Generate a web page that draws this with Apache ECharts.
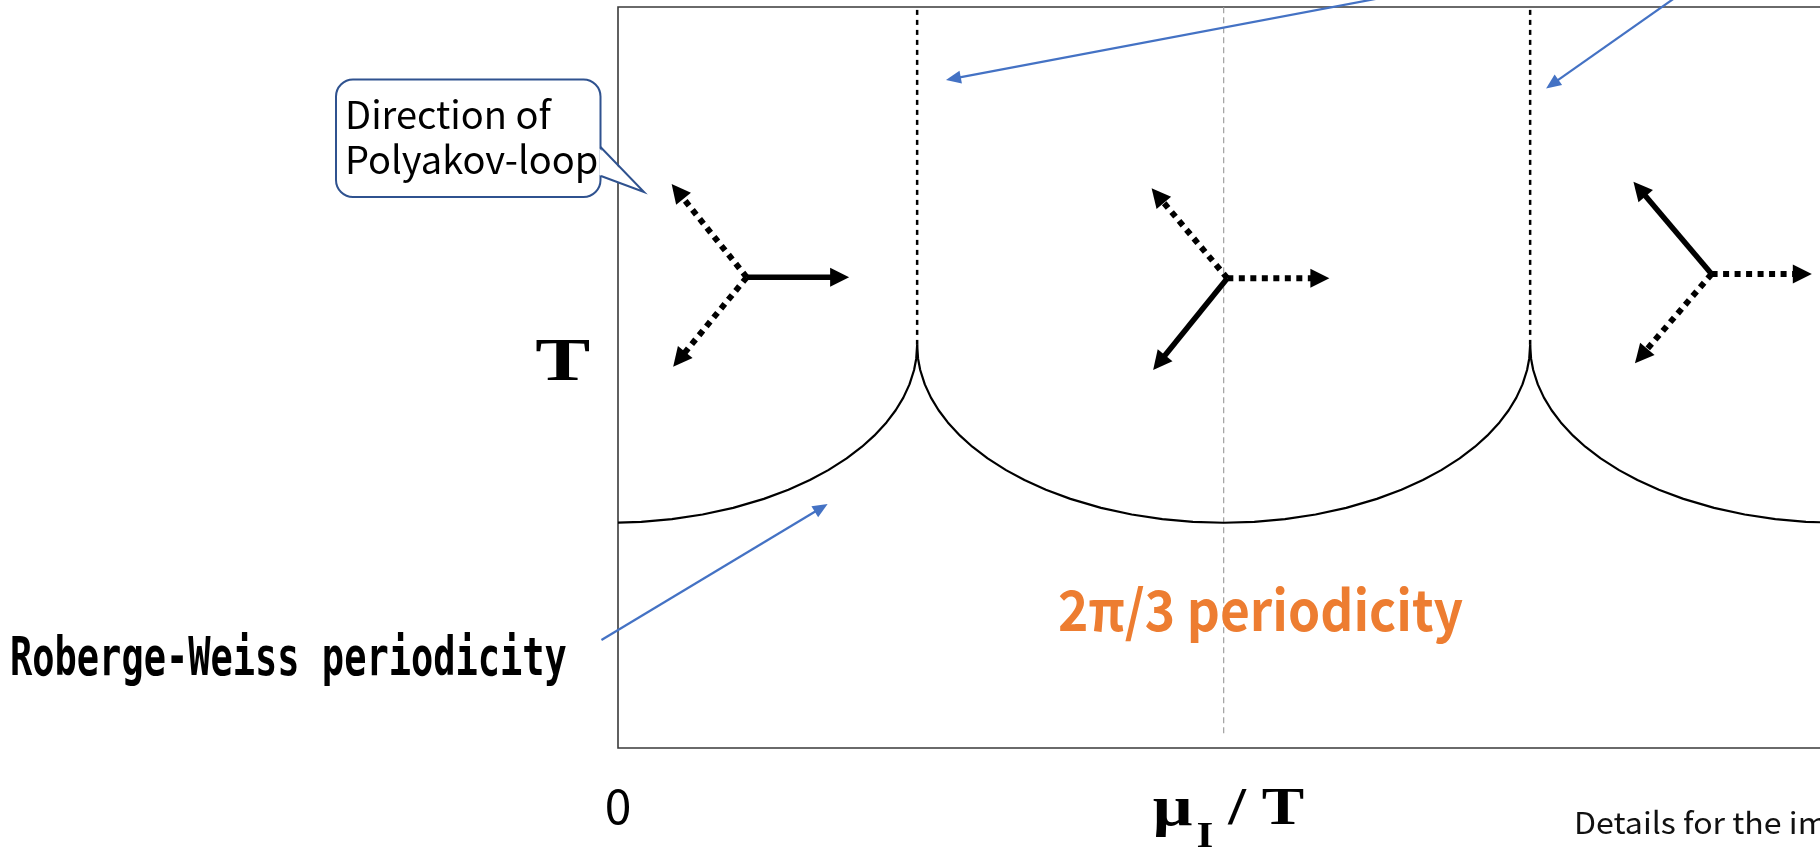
<!DOCTYPE html>
<html>
<head>
<meta charset="utf-8">
<title>Roberge-Weiss periodicity</title>
<script src="https://cdn.jsdelivr.net/npm/echarts@6/dist/echarts.min.js"></script>
<style>
  html, body { margin: 0; padding: 0; background: #fff; }
  #chart { width: 1820px; height: 849px; }
</style>
</head>
<body>
<div id="chart"></div>
<script>
// Imaginary chemical potential axis, in units of pi/3 (only the origin is labelled)
const muLabels = ['0'];

// Deconfinement boundary T(mu_I/T): one arc per Z3 sector, meeting at the RW cusps
const arcLeft = [
  [0.000, 30.41], [0.076, 30.52], [0.176, 30.88], [0.276, 31.51], [0.376, 32.40],
  [0.476, 33.62], [0.556, 34.85], [0.626, 36.16], [0.686, 37.50], [0.746, 39.09],
  [0.796, 40.66], [0.836, 42.15], [0.876, 43.94], [0.906, 45.58], [0.931, 47.28],
  [0.951, 49.07], [0.966, 51.01], [0.973, 52.54], [0.976, 54.40]
];
const arcMiddle = [
  [0.976, 54.40], [0.979, 52.54], [0.986, 51.01], [1.001, 49.07], [1.021, 47.28],
  [1.046, 45.58], [1.076, 43.94], [1.116, 42.15], [1.156, 40.66], [1.206, 39.09],
  [1.266, 37.50], [1.326, 36.16], [1.396, 34.85], [1.476, 33.62], [1.576, 32.40],
  [1.676, 31.51], [1.776, 30.88], [1.876, 30.52], [1.976, 30.40],
  [2.076, 30.52], [2.176, 30.88], [2.276, 31.51], [2.376, 32.40], [2.476, 33.62],
  [2.556, 34.85], [2.626, 36.16], [2.686, 37.50], [2.746, 39.09], [2.796, 40.66],
  [2.836, 42.15], [2.876, 43.94], [2.906, 45.58], [2.931, 47.28], [2.951, 49.07],
  [2.966, 51.01], [2.973, 52.54], [2.976, 54.40]
];
const arcRight = [
  [2.976, 54.40], [2.979, 52.54], [2.986, 51.01], [3.001, 49.07], [3.021, 47.28],
  [3.046, 45.58], [3.076, 43.94], [3.116, 42.15], [3.156, 40.66], [3.206, 39.09],
  [3.266, 37.50], [3.326, 36.16], [3.396, 34.85], [3.476, 33.62], [3.576, 32.40],
  [3.676, 31.51], [3.776, 30.88], [3.876, 30.52], [3.976, 30.40], [4.000, 30.41]
];

// RW transition lines above the cusps
const rwTransitionMu = [0.976, 2.976];
const rwCuspT = 54.4;
const topT = 100;

// Symmetry line through the middle sector
const midLineMu = 1.976;
const midLineBottomT = 2.0;

// Polyakov-loop directions: [mu0, T0, mu1, T1, solid(1)/dotted(0)]
const polyakovArrows = [
  [0.420, 63.52, 0.754, 63.52, 1],
  [0.420, 63.52, 0.175, 76.11, 0],
  [0.420, 63.52, 0.180, 51.46, 0],
  [1.988, 63.39, 2.321, 63.39, 0],
  [1.988, 63.39, 1.741, 75.53, 0],
  [1.988, 63.39, 1.746, 51.01, 1],
  [3.568, 63.97, 3.895, 63.97, 0],
  [3.568, 63.97, 3.313, 76.42, 1],
  [3.568, 63.97, 3.318, 51.92, 0]
];

// Blue pointers: [mu0, T0, mu1, T1]
const pointerArrows = [
  [2.799, 103.64, 1.070, 90.15],
  [3.531, 103.64, 3.028, 89.01],
  [-0.054, 14.57, 0.684, 32.93]
];

function arrowItem(headLen, headHalf, styleFor) {
  return function (params, api) {
    const p0 = api.coord([api.value(0), api.value(1)]);
    const p1 = api.coord([api.value(2), api.value(3)]);
    const dx = p1[0] - p0[0], dy = p1[1] - p0[1];
    const len = Math.hypot(dx, dy);
    const ux = dx / len, uy = dy / len;
    const bx = p1[0] - ux * headLen, by = p1[1] - uy * headLen;
    const s = styleFor(api);
    return {
      type: 'group',
      children: [
        {
          type: 'line',
          shape: { x1: p0[0], y1: p0[1], x2: bx + ux, y2: by + uy },
          style: { stroke: s.color, lineWidth: s.width, lineDash: s.dash, lineCap: 'butt', fill: null }
        },
        {
          type: 'polygon',
          shape: { points: [[p1[0], p1[1]], [bx - uy * headHalf, by + ux * headHalf], [bx + uy * headHalf, by - ux * headHalf]] },
          style: { fill: s.color, stroke: null }
        }
      ]
    };
  };
}

function label(text, x, y, font, opts) {
  const o = opts || {};
  return {
    type: 'text',
    x: x, y: y,
    scaleX: o.scaleX || 1,
    scaleY: o.scaleY || 1,
    z: 100,
    style: {
      text: text,
      font: font,
      fill: o.fill || '#000',
      align: o.align || 'left',
      verticalAlign: 'middle',
      textAlign: o.align || 'left',
      textVerticalAlign: 'middle'
    }
  };
}

function arcSeries(data) {
  return {
    type: 'line',
    data: data,
    symbol: 'none',
    silent: true,
    lineStyle: { color: '#000', width: 2.2, join: 'round' },
    z: 4
  };
}

const chart = echarts.init(document.getElementById('chart'), null, { renderer: 'canvas' });

const rwSeries = rwTransitionMu.map(function (mu) {
  return {
    type: 'line',
    data: [[mu, rwCuspT], [mu, topT]],
    symbol: 'none',
    silent: true,
    lineStyle: { color: '#000', width: 2.5, type: [5, 5] },
    z: 3
  };
});

chart.setOption({
  animation: false,
  backgroundColor: '#fff',
  grid: {
    left: 618, top: 7, width: 1226, height: 741,
    outerBoundsMode: 'none',
    containLabel: false,
    show: true, borderColor: '#3a3a3a', borderWidth: 1.6, backgroundColor: 'transparent'
  },
  xAxis: {
    type: 'value', min: 0, max: 4, interval: 1,
    axisLine: { show: false }, axisTick: { show: false }, splitLine: { show: false },
    axisLabel: {
      show: true, margin: 34, color: '#000',
      fontFamily: '"Noto Sans CJK JP"', fontSize: 48,
      formatter: function (v) { return v === 0 ? muLabels[0] : ''; }
    }
  },
  yAxis: {
    type: 'value', min: 0, max: 100,
    axisLine: { show: false }, axisTick: { show: false }, splitLine: { show: false },
    axisLabel: { show: false }
  },
  series: [
    {
      type: 'line',
      data: [[midLineMu, midLineBottomT], [midLineMu, topT]],
      symbol: 'none', silent: true,
      lineStyle: { color: '#a6a6a6', width: 1.3, type: [6, 4] },
      z: 2
    },
    arcSeries(arcLeft),
    arcSeries(arcMiddle),
    arcSeries(arcRight)
  ].concat(rwSeries).concat([
    {
      type: 'custom',
      coordinateSystem: 'cartesian2d',
      data: polyakovArrows,
      clip: false,
      silent: true,
      z: 6,
      renderItem: arrowItem(19, 9.5, function (api) {
        return api.value(4) === 1
          ? { color: '#000', width: 5.5, dash: null }
          : { color: '#000', width: 6, dash: [6, 5.5] };
      })
    },
    {
      type: 'custom',
      coordinateSystem: 'cartesian2d',
      data: pointerArrows,
      clip: false,
      silent: true,
      z: 7,
      renderItem: arrowItem(15, 6.5, function () {
        return { color: '#4472C4', width: 2.2, dash: null };
      })
    }
  ]),
  graphic: [
    {
      type: 'rect', z: 90,
      shape: { x: 336, y: 79.5, width: 264.5, height: 117.5, r: 17 },
      style: { fill: '#fff', stroke: '#2F528F', lineWidth: 2 }
    },
    {
      type: 'polygon', z: 91,
      shape: { points: [[599.4, 148.5], [644, 192], [599.4, 175]] },
      style: { fill: '#fff', stroke: null }
    },
    {
      type: 'polyline', z: 92,
      shape: { points: [[600.5, 147], [644, 192], [601, 176]] },
      style: { stroke: '#2F528F', lineWidth: 2, fill: null }
    },
    label('Direction of', 345, 115, '38px "Noto Sans CJK JP"'),
    label('Polyakov-loop', 345, 160, '38px "Noto Sans CJK JP"'),
    label('T', 562.8, 364, 'bold 62px "Liberation Serif"', { align: 'center', scaleX: 1.33 }),
    label('Roberge-Weiss periodicity', 10, 661, 'bold 37px "DejaVu Sans Mono"', { scaleY: 1.46 }),
    label('2\u03c0/3 periodicity', 1058, 610, 'bold 56px "Noto Sans CJK JP"', { fill: '#ED7D31', scaleX: 0.92 }),
    label('\u03bc', 1172.5, 810.1, 'bold 56px "Liberation Serif"', { align: 'center', scaleX: 1.25 }),
    label('I', 1205, 838, 'bold 36px "Liberation Serif"', { align: 'center', scaleX: 1.2 }),
    label('/', 1237, 810.1, 'bold 53px "Liberation Serif"', { align: 'center', scaleX: 1.2 }),
    label('T', 1283, 810.1, 'bold 53px "Liberation Serif"', { align: 'center', scaleX: 1.2 }),
    label('Details for the implementation', 1574, 823, '30px "Noto Sans CJK JP"', { fill: '#111', scaleX: 1.07 })
  ]
});
</script>
</body>
</html>
